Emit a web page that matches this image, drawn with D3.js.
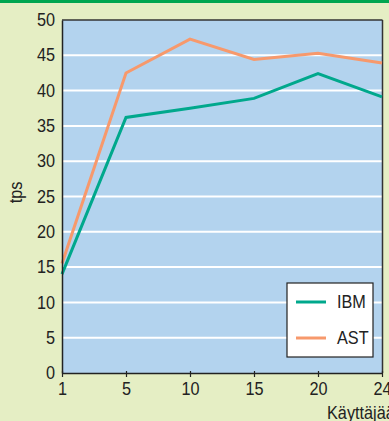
<!DOCTYPE html>
<html><head><meta charset="utf-8">
<script src="https://cdn.jsdelivr.net/npm/d3@7"></script>
<style>html,body{margin:0;padding:0;background:#e5eec4;overflow:hidden}svg{display:block}</style>
</head><body>
<script>
const categories = ["1","5","10","15","20","24"];
const ibm = [14.0, 36.2, 37.5, 38.9, 42.4, 39.1];
const ast = [15.5, 42.5, 47.3, 44.4, 45.3, 43.9];
const yTicks = [0,5,10,15,20,25,30,35,40,45,50];
const seriesNames = ["IBM","AST"];
const colors = ["#00a88c","#f7996c"];

const W = 389, H = 421;
const svg = d3.select("body").append("svg").attr("width", W).attr("height", H);
const font = "Liberation Sans, Arial, sans-serif";
const FS = 17.5, SX = 0.93;

svg.append("rect").attr("width", W).attr("height", H).attr("fill", "#e5eec4");
svg.append("rect").attr("x",0).attr("y",0).attr("width",W).attr("height",3).attr("fill","#00a650");

const x = d3.scalePoint().domain(categories).range([62, 382]);
const y = d3.scaleLinear().domain([0,50]).range([373, 20]);

svg.append("rect").attr("x",62).attr("y",y(50)).attr("width",320).attr("height",y(0)-y(50))
  .attr("fill","#b3d3ee");

// gridlines
svg.append("g").selectAll("line").data(yTicks.filter(d=>d>0&&d<50)).join("line")
  .attr("x1",62).attr("x2",382).attr("y1",d=>y(d)).attr("y2",d=>y(d))
  .attr("stroke","#ffffff").attr("stroke-width",2);

// frame top & right
svg.append("line").attr("x1",62).attr("x2",382.5).attr("y1",y(50)).attr("y2",y(50)).attr("stroke","#333").attr("stroke-width",1.5);
svg.append("line").attr("x1",382.5).attr("x2",382.5).attr("y1",y(50)).attr("y2",y(0)).attr("stroke","#333").attr("stroke-width",1.5);

// lines
const series = [ibm, ast];
const line = d3.line().x((d,i)=>x(categories[i])).y(d=>y(d));
[1,0].forEach(k=>{
  svg.append("path").datum(series[k]).attr("d",line).attr("fill","none")
    .attr("stroke",colors[k]).attr("stroke-width",3).attr("stroke-linejoin","miter");
});

// axes
const yAxis = svg.append("g").attr("transform","translate(62,0)")
  .call(d3.axisLeft(y).tickValues(yTicks).tickSize(0).tickPadding(7));
yAxis.select(".domain").attr("stroke","#222").attr("stroke-width",1.5);
yAxis.selectAll("text").attr("font-family",font).attr("font-size",FS).attr("fill","#222")
  .attr("x",null).attr("transform",`translate(-7,0) scale(${SX},1)`);

const xAxis = svg.append("g").attr("transform","translate(0,373)")
  .call(d3.axisBottom(x).tickSizeInner(4).tickSizeOuter(0).tickPadding(6));
xAxis.select(".domain").attr("stroke","#222").attr("stroke-width",1.5);
xAxis.selectAll(".tick line").attr("stroke","#222").attr("stroke-width",1.2).attr("y1",-2);
xAxis.selectAll("text").attr("font-family",font).attr("font-size",FS).attr("fill","#222")
  .attr("transform",`scale(${SX},1)`);

// axis titles
svg.append("text").attr("transform",`translate(22,192.5) rotate(-90) scale(${SX},1)`).attr("text-anchor","middle")
  .attr("font-family",font).attr("font-size",FS).attr("fill","#222").text("tps");
svg.append("text").attr("transform",`translate(327,419) scale(${SX},1)`).attr("font-family",font).attr("font-size",FS)
  .attr("fill","#222").text("Käyttäjää");

// legend
const lg = svg.append("g");
lg.append("rect").attr("x",287).attr("y",283).attr("width",86).attr("height",74)
  .attr("fill","#ffffff").attr("stroke","#222").attr("stroke-width",1.2);
seriesNames.forEach((n,i)=>{
  const yy = 302 + i*36;
  lg.append("line").attr("x1",296).attr("x2",326).attr("y1",yy).attr("y2",yy)
    .attr("stroke",colors[i]).attr("stroke-width",3);
  lg.append("text").attr("transform",`translate(337,${yy+6}) scale(${SX},1)`).attr("font-family",font).attr("font-size",FS)
    .attr("fill","#222").text(n);
});
</script>
</body></html>
